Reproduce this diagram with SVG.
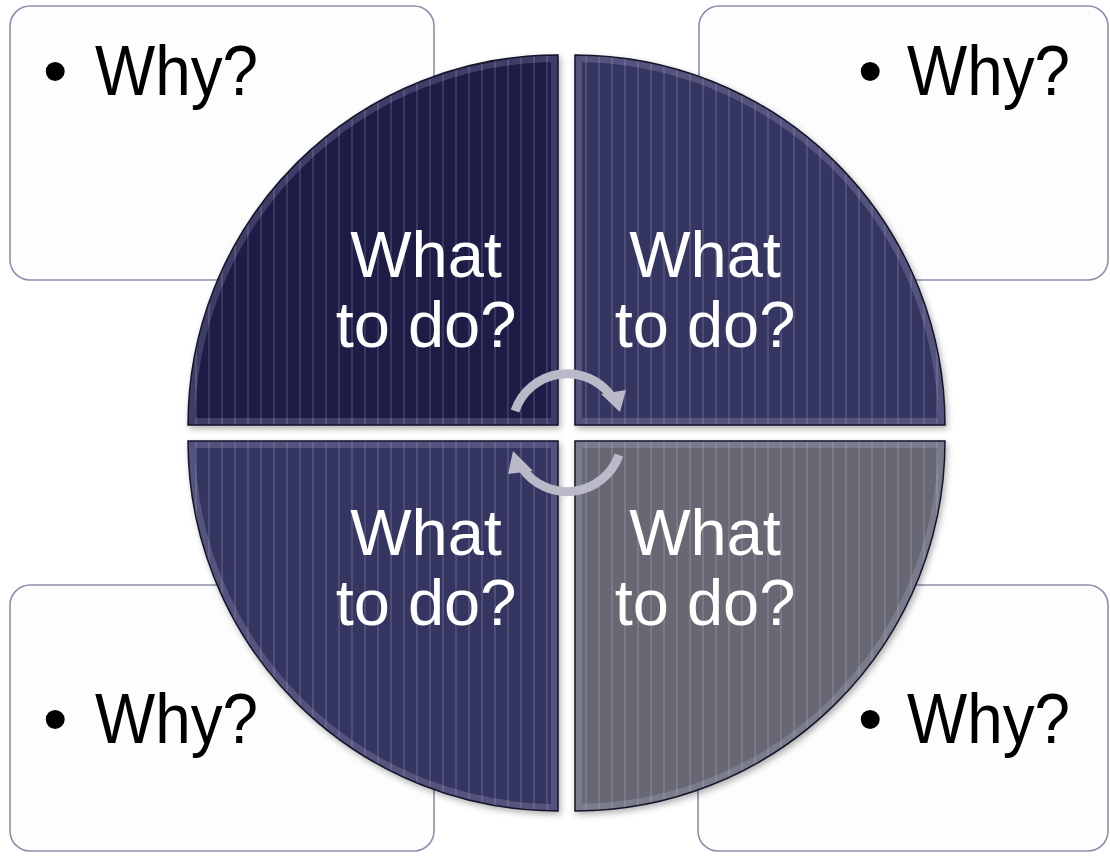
<svg xmlns="http://www.w3.org/2000/svg" width="1110" height="857" viewBox="0 0 1110 857">
<style>
.box{fill:#fdfdfd;stroke:#8e8eac;stroke-width:1.6}
.why{font-family:"Liberation Sans",Arial,sans-serif;font-size:70px;fill:#000}
.what{font-family:"Liberation Sans",Arial,sans-serif;font-size:65px;fill:#fff;text-anchor:middle}
.stripes{fill:url(#stripes)}
.bevel{fill:none;stroke:#c8c8f0;stroke-opacity:0.2;stroke-width:14}
.edge{fill:none;stroke:#14142c;stroke-width:1.5}
.arc{fill:none;stroke:#b9b9c8;stroke-width:9}
.head{fill:#b9b9c8}
</style>
<defs>
<pattern id="stripes" width="13" height="20" patternUnits="userSpaceOnUse">
<rect x="0" y="0" width="2" height="20" fill="#ffffff" fill-opacity="0.12"/>
</pattern>
<path id="pTL" d="M558,425 H188 A370,370 0 0 1 558,55 Z"/>
<path id="pTR" d="M575,425 V55 A370,370 0 0 1 945,425 Z"/>
<path id="pBL" d="M558,441 V811 A370,370 0 0 1 188,441 Z"/>
<path id="pBR" d="M575,441 H945 A370,370 0 0 1 575,811 Z"/>
<clipPath id="cTL"><use href="#pTL"/></clipPath>
<clipPath id="cTR"><use href="#pTR"/></clipPath>
<clipPath id="cBL"><use href="#pBL"/></clipPath>
<clipPath id="cBR"><use href="#pBR"/></clipPath>
<filter id="shadow" x="-10%" y="-10%" width="120%" height="120%">
<feDropShadow dx="2" dy="3" stdDeviation="3" flood-color="#000" flood-opacity="0.3"/>
</filter>
</defs>

<g id="box-tl">
<rect class="box" x="10" y="6" width="424" height="274" rx="20"/>
<text class="why" x="43" y="95">•</text>
<text class="why" x="95" y="95" textLength="163" lengthAdjust="spacingAndGlyphs">Why?</text>
</g>
<g id="box-tr">
<rect class="box" x="699" y="6" width="409" height="274" rx="20"/>
<text class="why" x="858" y="95">•</text>
<text class="why" x="907" y="95" textLength="163" lengthAdjust="spacingAndGlyphs">Why?</text>
</g>
<g id="box-bl">
<rect class="box" x="10" y="585" width="424" height="266" rx="20"/>
<text class="why" x="43" y="743">•</text>
<text class="why" x="95" y="743" textLength="163" lengthAdjust="spacingAndGlyphs">Why?</text>
</g>
<g id="box-br">
<rect class="box" x="698" y="585" width="410" height="266" rx="20"/>
<text class="why" x="858" y="743">•</text>
<text class="why" x="907" y="743" textLength="163" lengthAdjust="spacingAndGlyphs">Why?</text>
</g>

<g id="quad-tl" filter="url(#shadow)">
<use href="#pTL" fill="#1c1c46"/>
<use href="#pTL" class="stripes"/>
<use href="#pTL" class="bevel" clip-path="url(#cTL)"/>
<use href="#pTL" class="edge"/>
<text class="what" x="426" y="277">What</text>
<text class="what" x="426" y="347">to do?</text>
</g>
<g id="quad-tr" filter="url(#shadow)">
<use href="#pTR" fill="#363662"/>
<use href="#pTR" class="stripes"/>
<use href="#pTR" class="bevel" clip-path="url(#cTR)"/>
<use href="#pTR" class="edge"/>
<text class="what" x="705" y="277">What</text>
<text class="what" x="705" y="347">to do?</text>
</g>
<g id="quad-bl" filter="url(#shadow)">
<use href="#pBL" fill="#363662"/>
<use href="#pBL" class="stripes"/>
<use href="#pBL" class="bevel" clip-path="url(#cBL)"/>
<use href="#pBL" class="edge"/>
<text class="what" x="426" y="555">What</text>
<text class="what" x="426" y="625">to do?</text>
</g>
<g id="quad-br" filter="url(#shadow)">
<use href="#pBR" fill="#676874"/>
<use href="#pBR" class="stripes"/>
<use href="#pBR" class="bevel" clip-path="url(#cBR)"/>
<use href="#pBR" class="edge" stroke="#3a3a44"/>
<text class="what" x="705" y="555">What</text>
<text class="what" x="705" y="625">to do?</text>
</g>

<g id="connectors">
<path class="arc" d="M515,411 A55,55 0 0 1 612,397"/>
<polygon class="head" points="601,394 626,390 620,412"/>
<path class="arc" d="M619,455 A55,55 0 0 1 522,468"/>
<polygon class="head" points="533,471 508,474 513,451"/>
</g>
</svg>
